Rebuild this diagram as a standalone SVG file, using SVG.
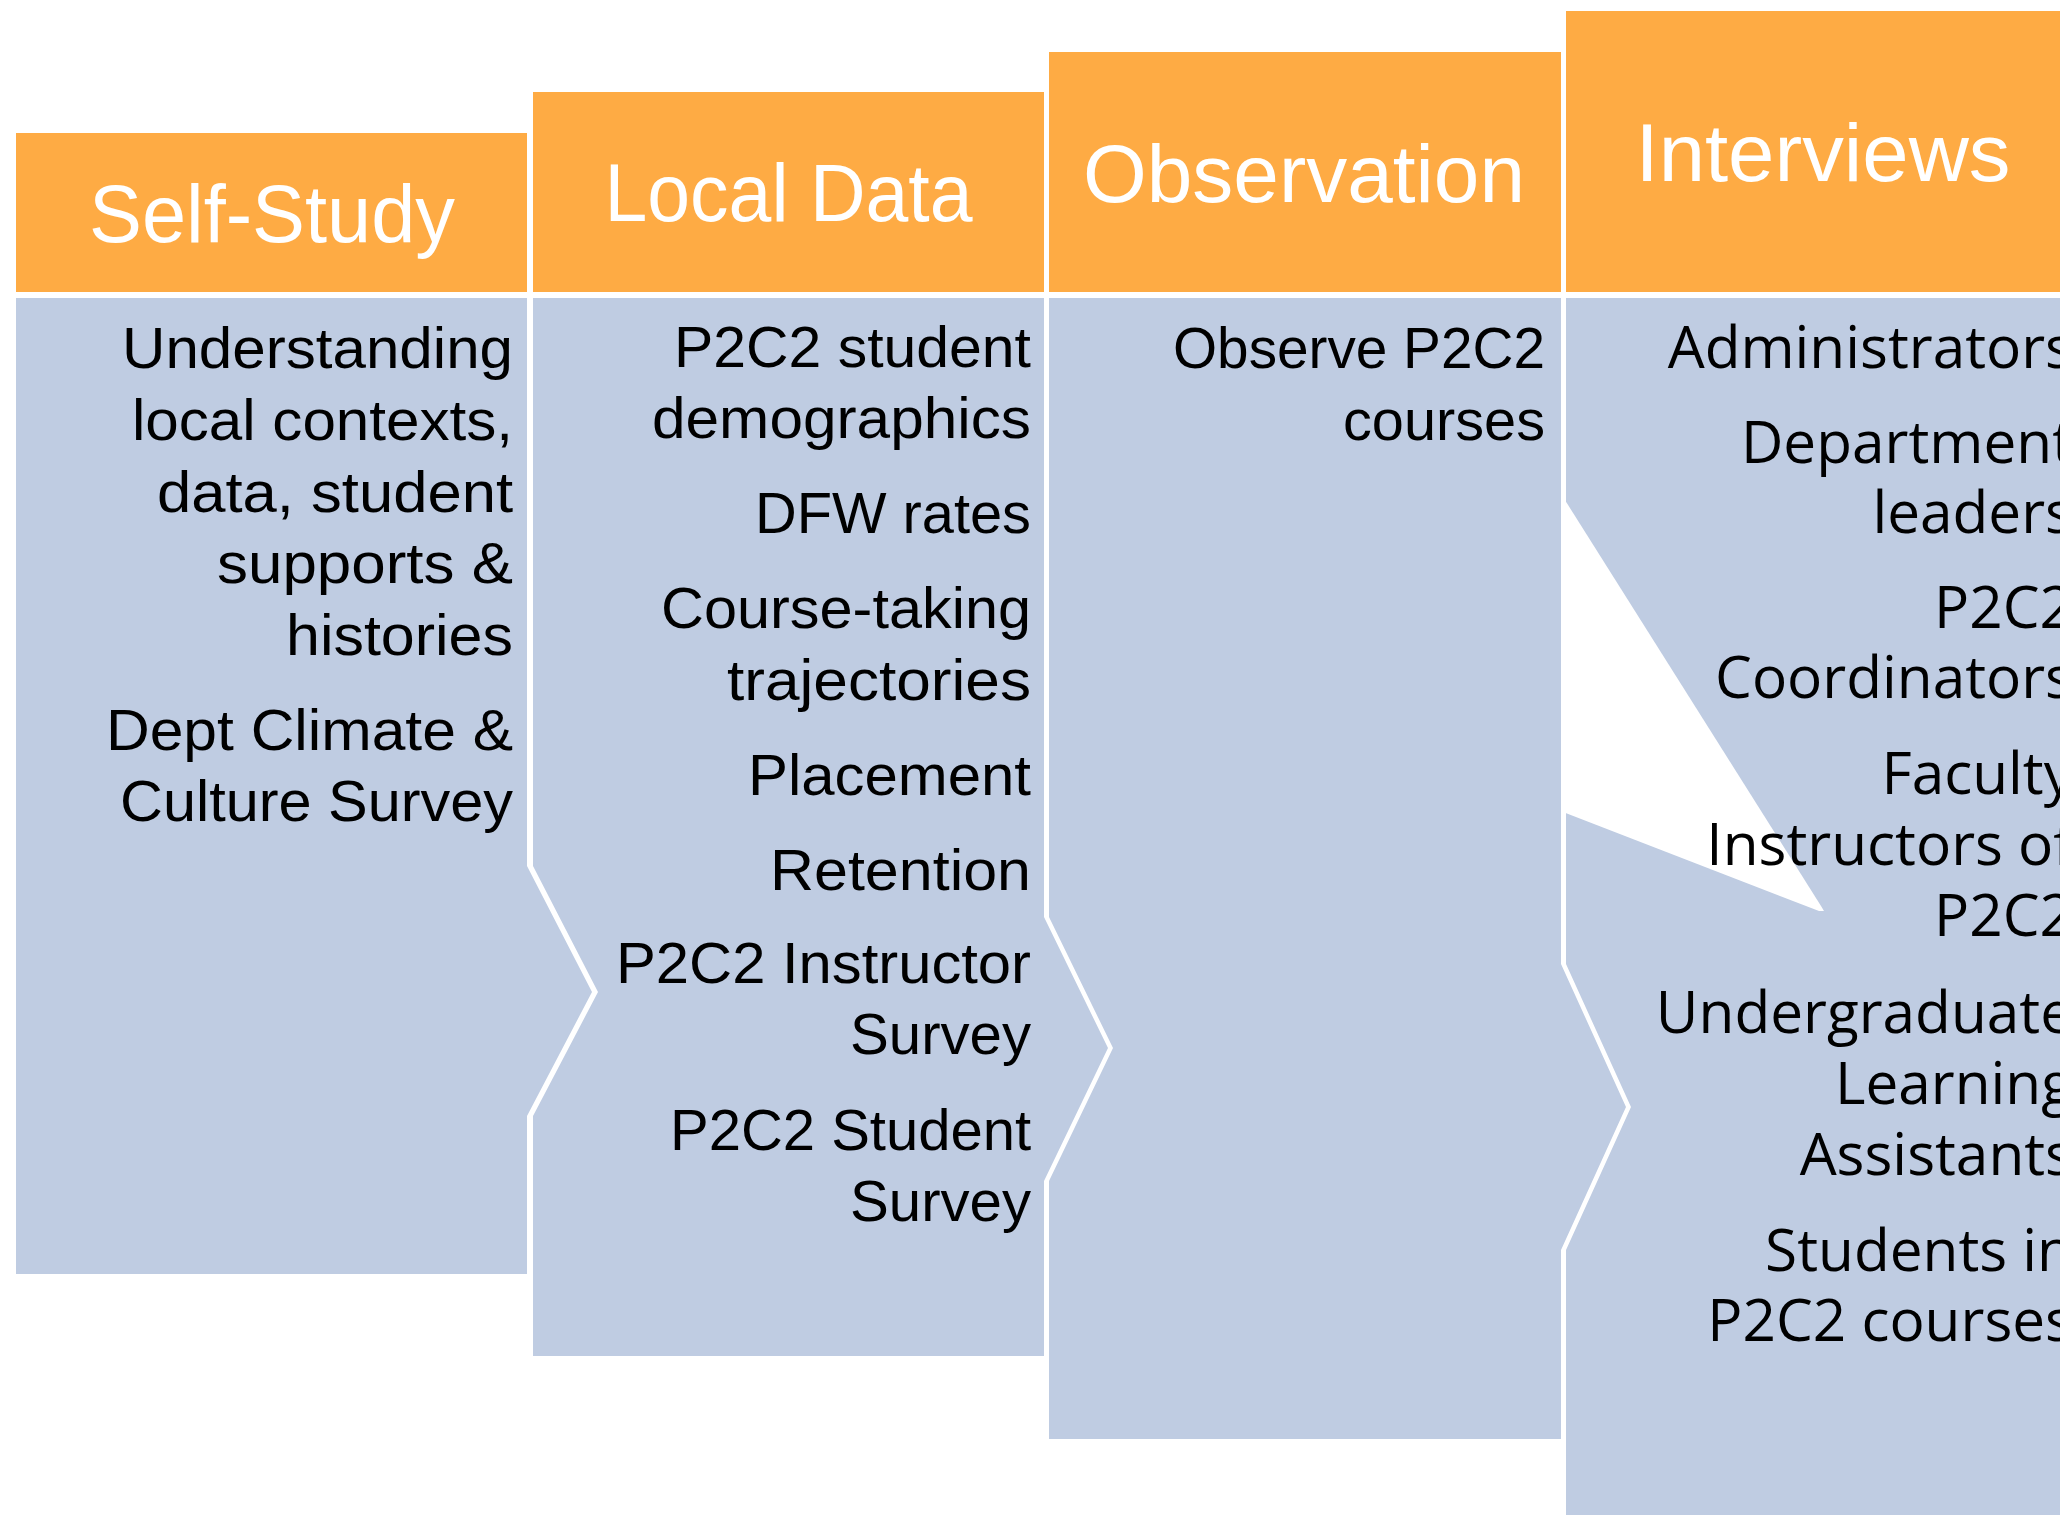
<svg xmlns="http://www.w3.org/2000/svg" width="2060" height="1515" viewBox="0 0 2060 1515">
<style>
.hd{fill:#FEAB44}
.bd{fill:#BFCCE2}
.ht{font-family:"Liberation Sans",Arial,sans-serif;font-size:81px;fill:#FFFFFF;text-anchor:middle}
.bt{font-family:"Liberation Sans",Arial,sans-serif;font-size:58px;fill:#000000;text-anchor:end}
.bt4{font-family:"Open Sans","Noto Sans",sans-serif;font-size:58.5px;fill:#000000;text-anchor:end}
</style>
<rect width="2060" height="1515" fill="#FFFFFF"/>
<g id="self-study">
<rect class="hd" x="16" y="133" width="511" height="159"/>
<text class="ht" x="272" y="242" textLength="366" lengthAdjust="spacingAndGlyphs">Self-Study</text>
<polygon class="bd" points="16,298 527,298 527,866 592,992 527,1116 527,1274 16,1274"/>
<text class="bt" x="513" y="368" textLength="391" lengthAdjust="spacingAndGlyphs">Understanding</text>
<text class="bt" x="513" y="440" textLength="381" lengthAdjust="spacingAndGlyphs">local contexts,</text>
<text class="bt" x="513" y="512" textLength="356" lengthAdjust="spacingAndGlyphs">data, student</text>
<text class="bt" x="513" y="583" textLength="296" lengthAdjust="spacingAndGlyphs">supports &amp;</text>
<text class="bt" x="513" y="655" textLength="227" lengthAdjust="spacingAndGlyphs">histories</text>
<text class="bt" x="513" y="750" textLength="407" lengthAdjust="spacingAndGlyphs">Dept Climate &amp;</text>
<text class="bt" x="513" y="821" textLength="393" lengthAdjust="spacingAndGlyphs">Culture Survey</text>
</g>
<g id="local-data">
<rect class="hd" x="533" y="92" width="511" height="200"/>
<text class="ht" x="788.5" y="221" textLength="368" lengthAdjust="spacingAndGlyphs">Local Data</text>
<polygon class="bd" points="533,298 1044,298 1044,917 1108,1048 1044,1181 1044,1356 533,1356 533,1116 598,992 533,866"/>
<text class="bt" x="1031" y="367" textLength="357" lengthAdjust="spacingAndGlyphs">P2C2 student</text>
<text class="bt" x="1031" y="438" textLength="379" lengthAdjust="spacingAndGlyphs">demographics</text>
<text class="bt" x="1031" y="533" textLength="276" lengthAdjust="spacingAndGlyphs">DFW rates</text>
<text class="bt" x="1031" y="628" textLength="370" lengthAdjust="spacingAndGlyphs">Course-taking</text>
<text class="bt" x="1031" y="700" textLength="304" lengthAdjust="spacingAndGlyphs">trajectories</text>
<text class="bt" x="1031" y="795" textLength="283" lengthAdjust="spacingAndGlyphs">Placement</text>
<text class="bt" x="1031" y="890" textLength="261" lengthAdjust="spacingAndGlyphs">Retention</text>
<text class="bt" x="1031" y="983" textLength="415" lengthAdjust="spacingAndGlyphs">P2C2 Instructor</text>
<text class="bt" x="1031" y="1054" textLength="181" lengthAdjust="spacingAndGlyphs">Survey</text>
<text class="bt" x="1031" y="1150" textLength="361" lengthAdjust="spacingAndGlyphs">P2C2 Student</text>
<text class="bt" x="1031" y="1221" textLength="181" lengthAdjust="spacingAndGlyphs">Survey</text>
</g>
<g id="observation">
<rect class="hd" x="1049" y="52" width="512" height="240"/>
<text class="ht" x="1304" y="202" textLength="442" lengthAdjust="spacingAndGlyphs">Observation</text>
<polygon class="bd" points="1049,298 1561,298 1561,964 1626,1107 1561,1250 1561,1439 1049,1439 1049,1181 1113,1048 1049,917"/>
<text class="bt" x="1545" y="368" textLength="372" lengthAdjust="spacingAndGlyphs">Observe P2C2</text>
<text class="bt" x="1545" y="440" textLength="202" lengthAdjust="spacingAndGlyphs">courses</text>
</g>
<g id="interviews">
<rect class="hd" x="1566" y="11" width="520" height="281"/>
<text class="ht" x="1823" y="181" textLength="375" lengthAdjust="spacingAndGlyphs">Interviews</text>
<polygon class="bd" points="1566,298 2090,298 2090,1530 1566,1530 1566,1250 1631,1107 1566,964"/>
<polygon fill="#FFFFFF" points="1563,497 1821,906 1824,911 1819,911 1563,812"/>
<text class="bt4" x="2073" y="368">Administrators</text>
<text class="bt4" x="2073" y="463">Department</text>
<text class="bt4" x="2073" y="533">leaders</text>
<text class="bt4" x="2073" y="628">P2C2</text>
<text class="bt4" x="2073" y="698">Coordinators</text>
<text class="bt4" x="2073" y="794">Faculty</text>
<text class="bt4" x="2073" y="865">Instructors of</text>
<text class="bt4" x="2073" y="936">P2C2</text>
<text class="bt4" x="2073" y="1033">Undergraduate</text>
<text class="bt4" x="2073" y="1104">Learning</text>
<text class="bt4" x="2073" y="1175">Assistants</text>
<text class="bt4" x="2073" y="1271">Students in</text>
<text class="bt4" x="2073" y="1341">P2C2 courses</text>
</g>
<g id="connectors"></g>
</svg>
